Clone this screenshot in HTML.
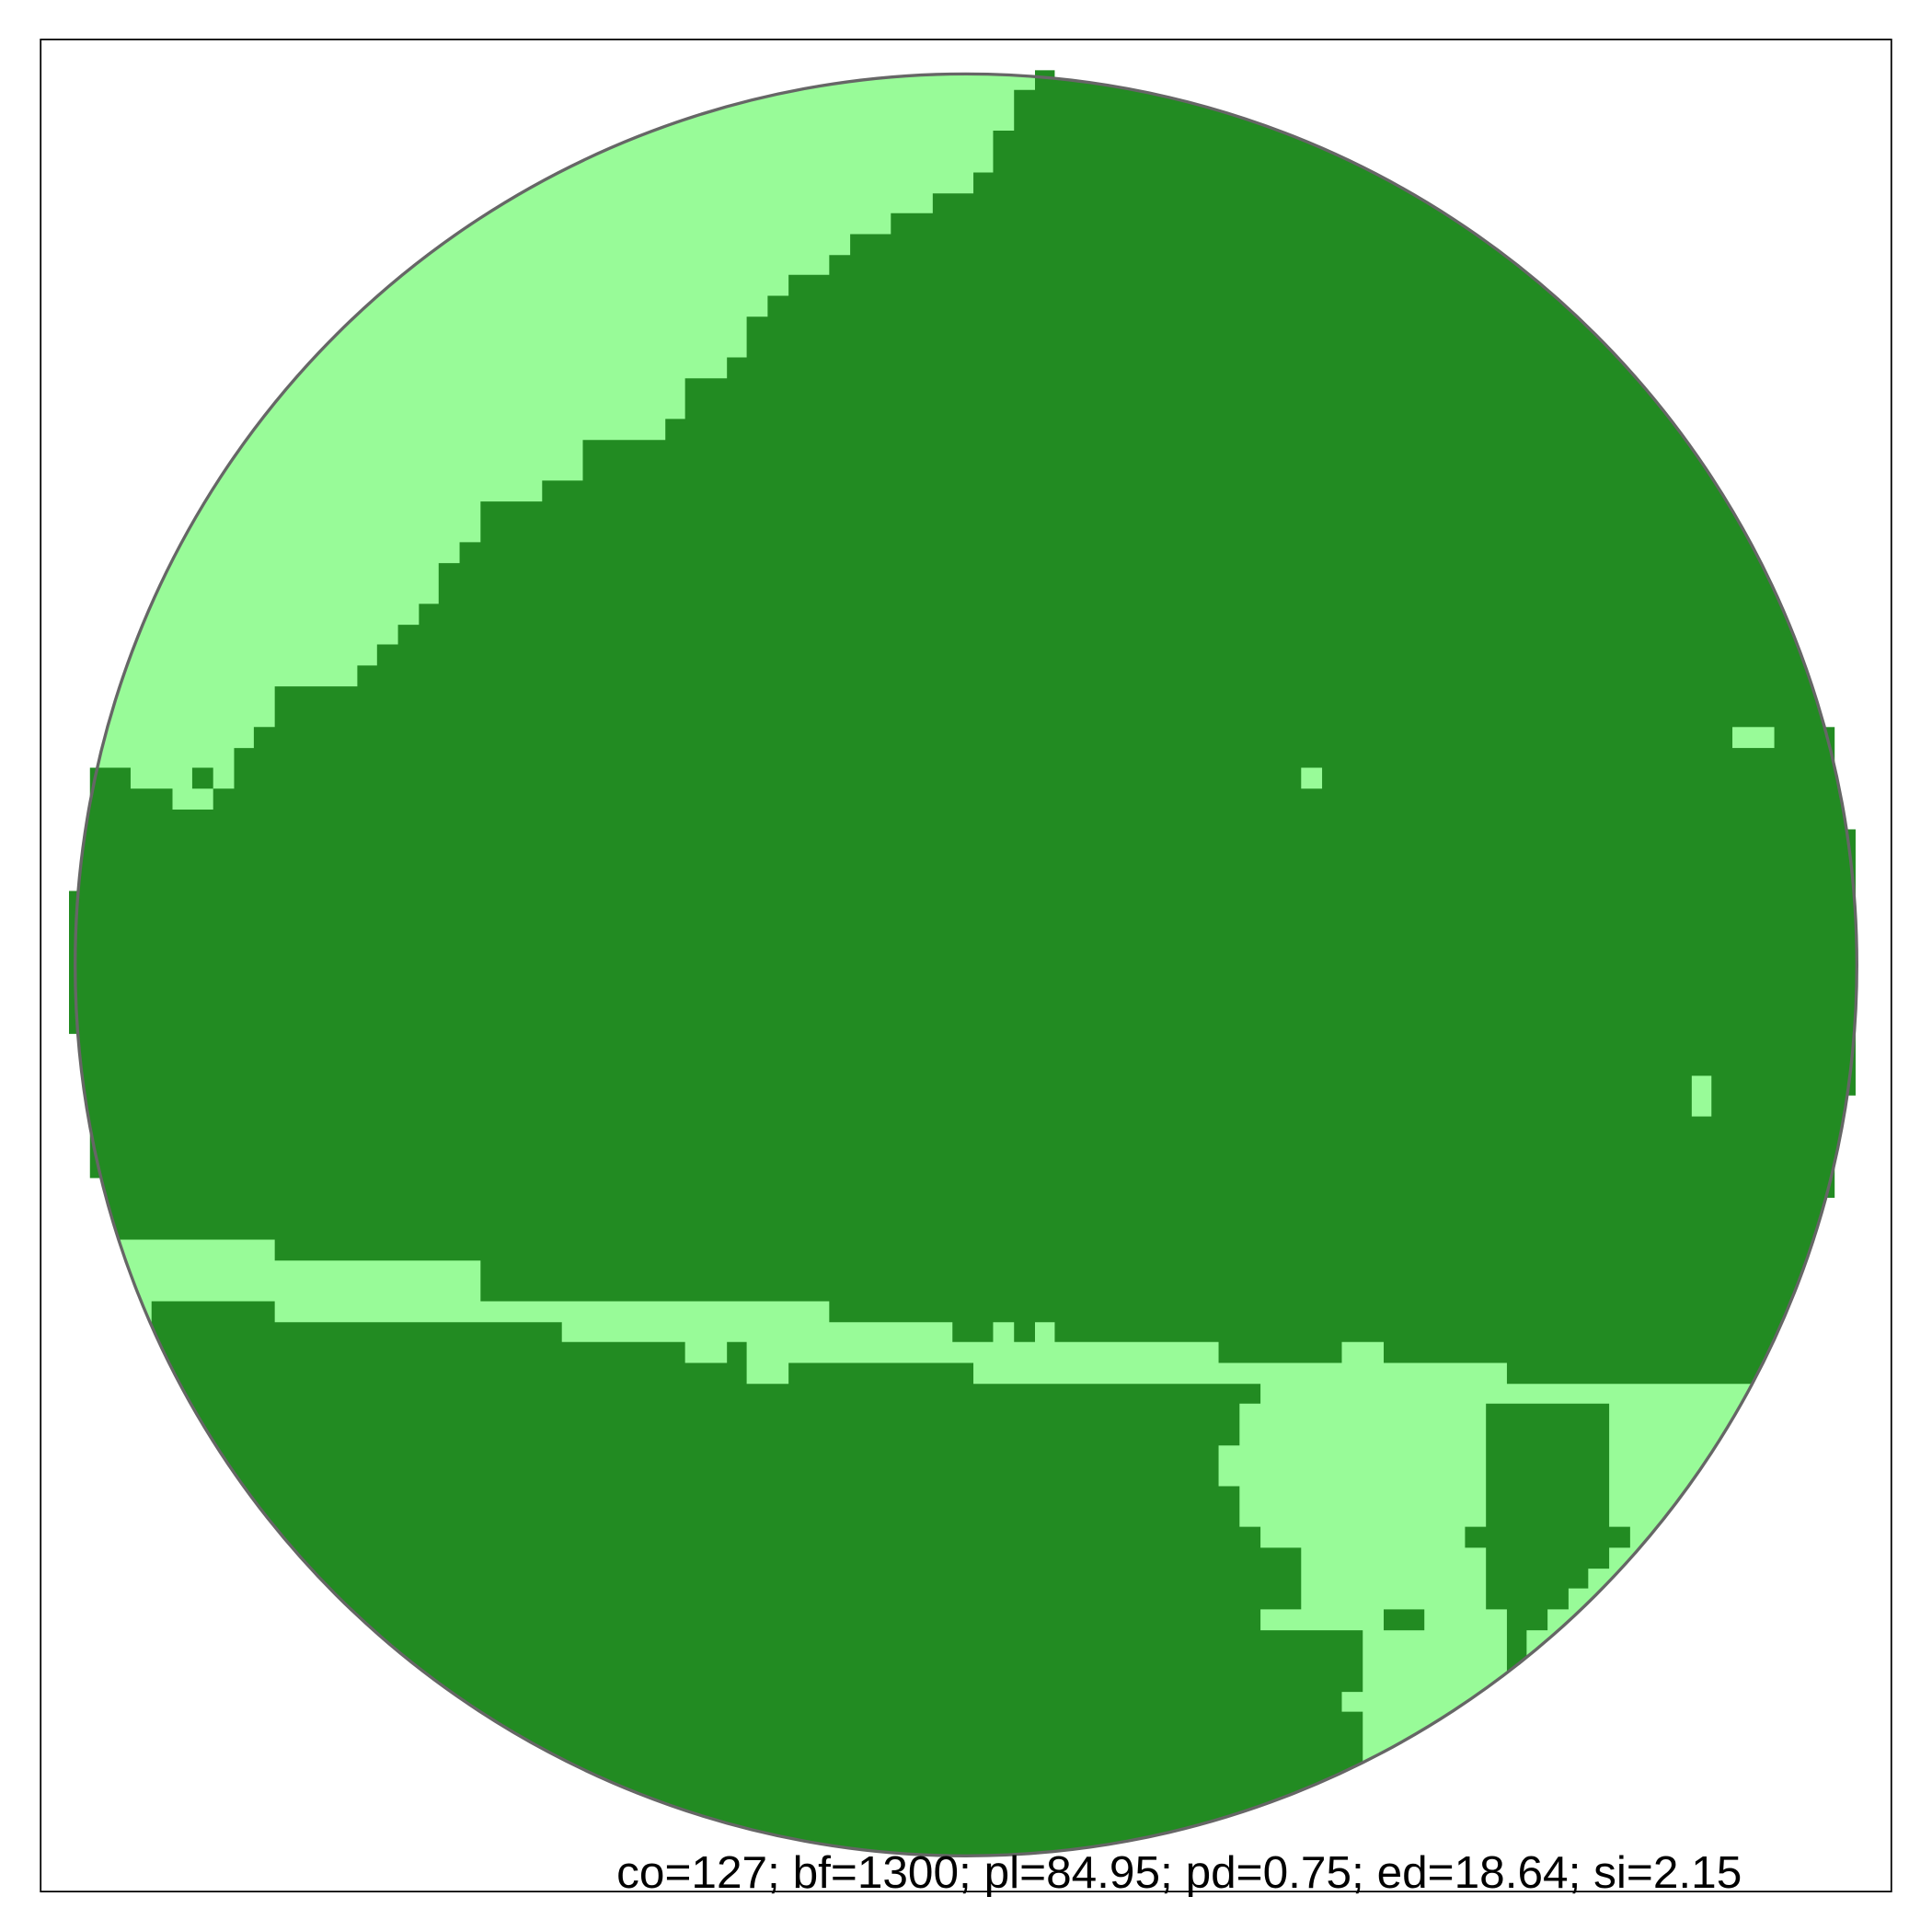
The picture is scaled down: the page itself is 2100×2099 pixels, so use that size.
<!DOCTYPE html>
<html><head><meta charset="utf-8"><style>
html,body{margin:0;padding:0;background:#fff;}
svg{display:block;}
</style></head><body>
<svg id="chart" width="2100" height="2099" viewBox="0 0 1568 1567" preserveAspectRatio="none" xmlns="http://www.w3.org/2000/svg">
<defs><clipPath id="cc"><circle cx="784" cy="783" r="723"/></clipPath></defs>
<rect x="33" y="32" width="1502" height="1503" fill="#fff" stroke="#000" stroke-width="1.3"/>
<g id="cells"></g>
<circle cx="784" cy="783" r="723" fill="none" stroke="#666" stroke-width="2.5"/>
<text x="957" y="1532" text-anchor="middle" font-family="Liberation Sans, sans-serif" font-size="37" fill="#000">co=127; bf=1300; pl=84.95; pd=0.75; ed=18.64; si=2.15</text>
</svg>
<script>
const DARK='#228B22', LIGHT='#98FB98';
const topLeftLight=[[0,0],[840,0],[840,73],[823,73],[823,106],[806,106],[806,140],[790,140],[790,157],[757,157],[757,173],[723,173],[723,190],[690,190],[690,207],[673,207],[673,223],[640,223],[640,240],[623,240],[623,257],[606,257],[606,290],[590,290],[590,307],[556,307],[556,340],[540,340],[540,357],[473,357],[473,390],[440,390],[440,407],[390,407],[390,440],[373,440],[373,457],[356,457],[356,490],[340,490],[340,507],[323,507],[323,523],[306,523],[306,540],[290,540],[290,557],[223,557],[223,590],[206,590],[206,607],[190,607],[190,640],[173,640],[173,657],[140,657],[140,640],[106,640],[106,623],[0,623]];
const bottomLight=[[0,1006],[223,1006],[223,1023],[390,1023],[390,1056],[673,1056],[673,1073],[773,1073],[773,1089],[806,1089],[806,1073],[823,1073],[823,1089],[840,1089],[840,1073],[856,1073],[856,1089],[989,1089],[989,1106],[1089,1106],[1089,1089],[1123,1089],[1123,1106],[1223,1106],[1223,1123],[1600,1123],[1600,1600],[1106,1600],[1106,1389],[1089,1389],[1089,1373],[1106,1373],[1106,1323],[1023,1323],[1023,1306],[1056,1306],[1056,1256],[1023,1256],[1023,1239],[1006,1239],[1006,1206],[989,1206],[989,1173],[1006,1173],[1006,1139],[1023,1139],[1023,1123],[790,1123],[790,1106],[640,1106],[640,1123],[606,1123],[606,1089],[590,1089],[590,1106],[556,1106],[556,1089],[456,1089],[456,1073],[223,1073],[223,1056],[123,1056],[123,1600],[0,1600]];
const rightDark=[[1206,1139],[1306,1139],[1306,1239],[1323,1239],[1323,1256],[1306,1256],[1306,1273],[1289,1273],[1289,1289],[1273,1289],[1273,1306],[1256,1306],[1256,1323],[1239,1323],[1239,1356],[1223,1356],[1223,1306],[1206,1306],[1206,1256],[1189,1256],[1189,1239],[1206,1239]];
const darkCells=[[156,623,17,17],[1123,1306,33,17]];
const lightCells=[[1056,623,17,17],[1406,590,34,17],[1373,873,16,33]];
const outerDark=[[56,723,17,116],[73,623,17,333],[1489,673,17,216],[1473,590,16,382],[840,57,16,16]];
const NS='http://www.w3.org/2000/svg';
const g=document.getElementById('cells');
function poly(pts,fill,name,clip){
  const p=document.createElementNS(NS,'polygon');
  p.setAttribute('points',pts.map(q=>q.join(',')).join(' '));
  p.setAttribute('fill',fill);
  if(clip)p.setAttribute('clip-path','url(#cc)');
  
  
  g.appendChild(p);
}
function rect(r,fill,name,clip){
  const e=document.createElementNS(NS,'rect');
  e.setAttribute('x',r[0]);e.setAttribute('y',r[1]);e.setAttribute('width',r[2]);e.setAttribute('height',r[3]);
  e.setAttribute('fill',fill);
  if(clip)e.setAttribute('clip-path','url(#cc)');
  
  
  g.appendChild(e);
}
outerDark.forEach(r=>rect(r,DARK,'dark-cell-edge',false));
const base=document.createElementNS(NS,'circle');
base.setAttribute('cx',784);base.setAttribute('cy',783);base.setAttribute('r',723);base.setAttribute('fill',DARK);


g.appendChild(base);
poly(topLeftLight,LIGHT,'light-region-top-left',true);
poly(bottomLight,LIGHT,'light-region-bottom',true);
poly(rightDark,DARK,'dark-region-bottom-right',true);
darkCells.forEach(r=>rect(r,DARK,'dark-cell',true));
lightCells.forEach(r=>rect(r,LIGHT,'light-cell',true));
</script>
</body></html>
